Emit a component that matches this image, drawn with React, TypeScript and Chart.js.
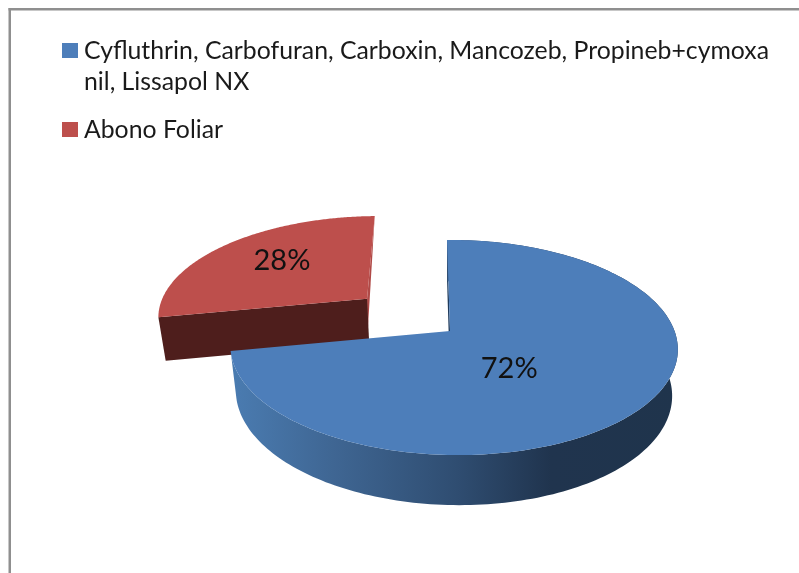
import React, { useEffect, useRef } from "react";
import { Chart, registerables } from "chart.js";

Chart.register(...registerables);

const categories = [
  "Cyfluthrin, Carbofuran, Carboxin, Mancozeb, Propineb+cymoxanil, Lissapol NX",
  "Abono Foliar",
];
const shareValues = [72, 28];
const sliceColors = ["#4d7eba", "#bd4f4c"];
const explodeOffsets = [0, 116];

// Perspective of the pie plane (unit circle -> screen)
const P = { cx: 450, cy: 331, A: 221, B: 105, C: 3.46, k: 0.1535, m: 0.0157, shrink: 0.975, depth: 45 };
const LABEL_PLACE = [
  { f: 0.555, r: 0.42 },
  { f: 0.54, r: 0.63 },
];

function top(u: number, v: number) {
  const w = 1 - P.k * v - P.m * u;
  return { x: P.cx + (P.A * u + P.C * v) / w, y: P.cy + (P.B * v) / w, w };
}
function bottom(u: number, v: number) {
  const p = top(u, v);
  return {
    x: P.cx + (p.x - P.cx) * P.shrink,
    y: P.cy + (p.y - P.cy) * P.shrink + P.depth / p.w,
  };
}
function poly(ctx: CanvasRenderingContext2D, pts: { x: number; y: number }[], fill: any) {
  ctx.beginPath();
  pts.forEach((p, i) => (i ? ctx.lineTo(p.x, p.y) : ctx.moveTo(p.x, p.y)));
  ctx.closePath();
  ctx.fillStyle = fill;
  ctx.fill();
}

const pie3d = {
  id: "pie3d",
  beforeDraw(chart: any) {
    const c = chart.ctx;
    c.save();
    c.fillStyle = "#ffffff";
    c.fillRect(0, 0, chart.width, chart.height);
    c.fillStyle = "#8f8f8f";
    c.fillRect(8.5, 8, chart.width - 8, 2.5);
    c.fillRect(8.5, 8, 2.5, chart.height - 8);
    c.restore();
  },
  beforeDatasetDraw(chart: any) {
    const ctx: CanvasRenderingContext2D = chart.ctx;
    const arcs = chart.getDatasetMeta(0).data;
    const blueWall = ctx.createLinearGradient(235, 0, 680, 0);
    blueWall.addColorStop(0, "#4a7bb0");
    blueWall.addColorStop(0.22, "#3f6693");
    blueWall.addColorStop(0.5, "#2f4d71");
    blueWall.addColorStop(0.71, "#20344e");
    blueWall.addColorStop(1, "#1f344c");
    ctx.save();
    [1, 0].forEach((i) => {
      const a = arcs[i];
      const R = a.outerRadius;
      const d = (a.options.offset || 0) / R;
      const mid = (a.startAngle + a.endAngle) / 2;
      const ou = Math.cos(mid) * d;
      const ov = Math.sin(mid) * d;
      const steps = 200;
      const rimT: any[] = [];
      const rimB: any[] = [];
      for (let s = 0; s <= steps; s++) {
        const t = a.startAngle + ((a.endAngle - a.startAngle) * s) / steps;
        rimT.push(top(ou + Math.cos(t), ov + Math.sin(t)));
        rimB.push(bottom(ou + Math.cos(t), ov + Math.sin(t)));
      }
      const aT = top(ou, ov);
      const aB = bottom(ou, ov);
      if (i === 1) {
        // exploded slice: its rim faces away, only the two cut faces show
        poly(ctx, [aT, rimT[steps], { x: aT.x, y: aB.y }], "#b04a47");
        poly(ctx, [aT, rimT[0], rimB[0], aB], "#4e1e1c");
      } else {
        poly(ctx, [aT, rimT[0], rimB[0], aB], "#1f3b5c");
        poly(ctx, [...rimT, ...rimB.slice().reverse()], blueWall);
      }
      poly(ctx, [aT, ...rimT], sliceColors[i]);
    });
    // value labels
    ctx.fillStyle = "#111111";
    ctx.font = "29px Lato";
    ctx.textAlign = "center";
    ctx.textBaseline = "middle";
    const total = shareValues.reduce((x, y) => x + y, 0);
    arcs.forEach((a: any, i: number) => {
      const d = (a.options.offset || 0) / a.outerRadius;
      const mid = (a.startAngle + a.endAngle) / 2;
      const place = LABEL_PLACE[i];
      const t = a.startAngle + (a.endAngle - a.startAngle) * place.f;
      const p = top(Math.cos(mid) * d + Math.cos(t) * place.r, Math.sin(mid) * d + Math.sin(t) * place.r);
      ctx.fillText(`${Math.round((shareValues[i] / total) * 100)}%`, p.x, p.y);
    });
    // legend
    ctx.textAlign = "left";
    ctx.textBaseline = "alphabetic";
    ctx.font = "24.8px Lato";
    let y = 59;
    categories.forEach((label, i) => {
      ctx.fillStyle = sliceColors[i];
      ctx.fillRect(62, y - 16, 16, 15);
      ctx.fillStyle = "#1a1a1a";
      let line = "";
      for (const ch of label) {
        if (ctx.measureText(line + ch).width > 690) {
          ctx.fillText(line, 84, y);
          y += 31;
          line = ch;
        } else line += ch;
      }
      ctx.fillText(line, 84, y);
      y += 48;
    });
    ctx.restore();
    return false;
  },
};

export default function App() {
  const ref = useRef<HTMLCanvasElement>(null);
  useEffect(() => {
    const chart = new Chart(ref.current!, {
      type: "pie",
      data: {
        labels: categories,
        datasets: [{ data: shareValues, backgroundColor: sliceColors, offset: explodeOffsets, borderWidth: 0 }],
      },
      options: {
        animation: false,
        responsive: false,
        rotation: 0,
        plugins: { legend: { display: false }, tooltip: { enabled: false } },
      },
      plugins: [pie3d],
    } as any);
    return () => chart.destroy();
  }, []);
  return (
    <div style={{ position: "fixed", left: 0, top: 0, width: 799, height: 573, overflow: "hidden", background: "#fff" }}>
      <canvas ref={ref} width={799} height={573} style={{ display: "block" }} />
    </div>
  );
}
